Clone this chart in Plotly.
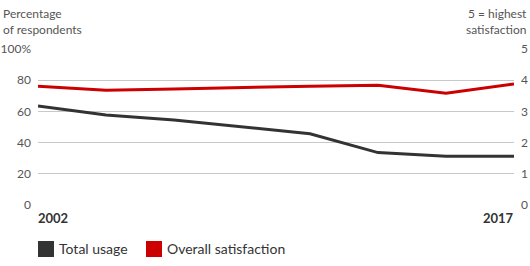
import plotly.graph_objects as go

# Survey points (equally spaced), only first and last labelled
survey = ["2002", "s2", "s3", "s4", "s5", "s6", "s7", "2017"]
end_labels = ["2002", "2017"]
usage_pct = [63.5, 57.7, 54.5, 50.3, 45.7, 33.6, 31.3, 31.3]
satisfaction = [3.81, 3.68, 3.72, 3.77, 3.81, 3.84, 3.58, 3.88]
series_names = ["Total usage", "Overall satisfaction"]

left_ticks = [0, 20, 40, 60, 80, 100]
left_text = ["0", "20", "40", "60", "80", "100%"]
right_ticks = [0, 1, 2, 3, 4, 5]

GRAY = "#333333"
RED = "#cc0000"
FONT = "Lato"
TXT = "#555555"

W, H = 530, 266
ML, MR, MT, MB = 38, 16, 49, 61
PW, PH = W - ML - MR, H - MT - MB


def px_x(px):
    return (px - ML) / PW


def px_y(py):
    return (H - MB - py) / PH


fig = go.Figure()
fig.add_trace(go.Scatter(x=survey, y=usage_pct, mode="lines", name=series_names[0],
                         line=dict(color=GRAY, width=3), showlegend=False,
                         yaxis="y"))
fig.add_trace(go.Scatter(x=survey, y=satisfaction, mode="lines", name=series_names[1],
                         line=dict(color=RED, width=3), showlegend=False,
                         yaxis="y2"))

annotations = [
    dict(x=0, y=0, xref="x", yref="paper", text="<b>" + end_labels[0] + "</b>",
         showarrow=False, xanchor="left", yanchor="top", yshift=-3, xshift=-2,
         font=dict(size=13, color="#333333")),
    dict(x=len(survey) - 1, y=0, xref="x", yref="paper", text="<b>" + end_labels[1] + "</b>",
         showarrow=False, xanchor="right", yanchor="top", yshift=-3, xshift=2,
         font=dict(size=13, color="#333333")),
    dict(x=px_x(1), y=px_y(4), xref="paper", yref="paper",
         text="Percentage<br>of respondents", showarrow=False,
         xanchor="left", yanchor="top", align="left",
         font=dict(size=12, color=TXT)),
    dict(x=px_x(529), y=px_y(4), xref="paper", yref="paper",
         text="5 = highest<br>satisfaction", showarrow=False,
         xanchor="right", yanchor="top", align="right",
         font=dict(size=12, color=TXT)),
]

shapes = []
legend_left = [38, 146]
for name, color, lx in zip(series_names, [GRAY, RED], legend_left):
    shapes.append(dict(type="rect", xref="paper", yref="paper",
                       x0=px_x(lx), x1=px_x(lx + 16), y0=px_y(257), y1=px_y(241),
                       fillcolor=color, line=dict(width=0)))
    annotations.append(dict(x=px_x(lx + 19), y=px_y(249), xref="paper", yref="paper",
                            text=name, showarrow=False, xanchor="left", yanchor="middle",
                            font=dict(size=14, color="#333333")))

fig.update_layout(
    width=W, height=H,
    margin=dict(l=ML, r=MR, t=MT, b=MB, autoexpand=False),
    paper_bgcolor="white", plot_bgcolor="white",
    font=dict(family=FONT, size=12, color=TXT),
    showlegend=False,
    xaxis=dict(type="category", categoryorder="array", categoryarray=survey,
               range=[0, len(survey) - 1], showticklabels=False, automargin=False,
               showgrid=False, zeroline=False, showline=False, ticks=""),
    yaxis=dict(range=[0, 100], tickvals=left_ticks, ticktext=left_text, automargin=False,
               showgrid=True, gridcolor="#c8c8c8", gridwidth=1,
               zeroline=False, showline=False, ticks="",
               ticklabelstandoff=6, tickfont=dict(size=12, color=TXT)),
    yaxis2=dict(range=[0, 5], tickvals=right_ticks, overlaying="y", side="right",
                automargin=False,
                showgrid=False, zeroline=False, showline=False, ticks="",
                ticklabelstandoff=6, tickfont=dict(size=12, color=TXT)),
    annotations=annotations,
    shapes=shapes,
)

fig.write_html("out.html")
